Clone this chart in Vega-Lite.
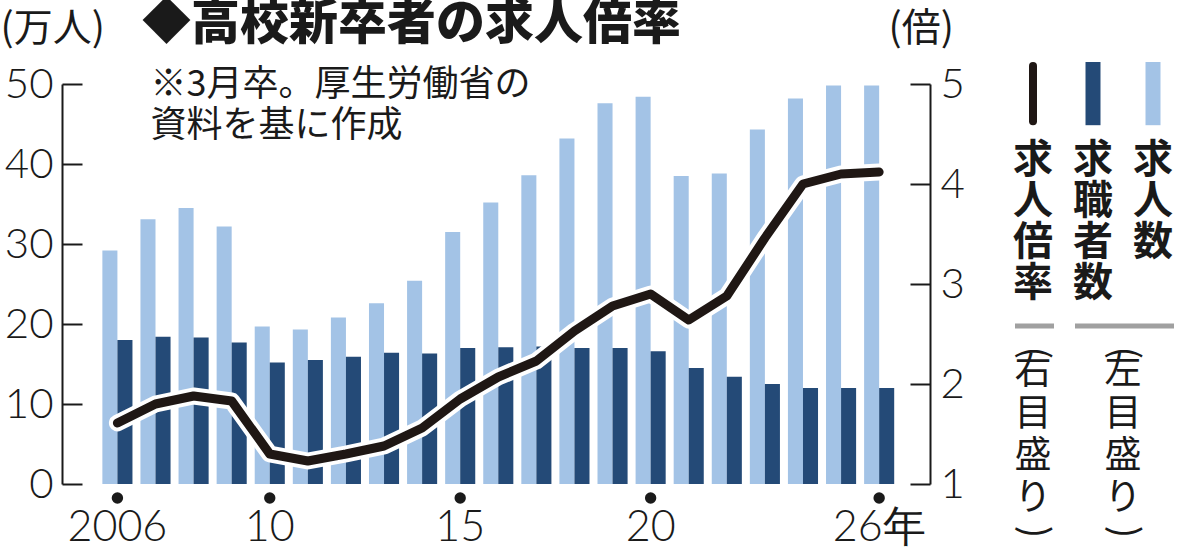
{
  "$schema": "https://vega.github.io/schema/vega-lite/v6.json",
  "background": "white",
  "padding": 0,
  "bounds": "flush",
  "spacing": 73,
  "config": {
    "view": {"stroke": null},
    "font": "Noto Sans CJK JP",
    "axis": {"grid": false}
  },
  "title": {
    "text": "◆高校新卒者の求人倍率",
    "anchor": "start",
    "frame": "group",
    "dx": 80,
    "dy": 40,
    "offset": 0,
    "font": "Noto Sans CJK JP",
    "fontSize": 49,
    "fontWeight": 900,
    "color": "#1a1a1a"
  },
  "datasets": {
    "bars": [
      {"year": "2006", "series": "求人数", "value": 29.2},
      {"year": "2007", "series": "求人数", "value": 33.1},
      {"year": "2008", "series": "求人数", "value": 34.5},
      {"year": "2009", "series": "求人数", "value": 32.2},
      {"year": "2010", "series": "求人数", "value": 19.7},
      {"year": "2011", "series": "求人数", "value": 19.3},
      {"year": "2012", "series": "求人数", "value": 20.8},
      {"year": "2013", "series": "求人数", "value": 22.6},
      {"year": "2014", "series": "求人数", "value": 25.4},
      {"year": "2015", "series": "求人数", "value": 31.5},
      {"year": "2016", "series": "求人数", "value": 35.2},
      {"year": "2017", "series": "求人数", "value": 38.6},
      {"year": "2018", "series": "求人数", "value": 43.2},
      {"year": "2019", "series": "求人数", "value": 47.6},
      {"year": "2020", "series": "求人数", "value": 48.4},
      {"year": "2021", "series": "求人数", "value": 38.5},
      {"year": "2022", "series": "求人数", "value": 38.8},
      {"year": "2023", "series": "求人数", "value": 44.3},
      {"year": "2024", "series": "求人数", "value": 48.2},
      {"year": "2025", "series": "求人数", "value": 49.8},
      {"year": "2026", "series": "求人数", "value": 49.8},
      {"year": "2006", "series": "求職者数", "value": 18.0},
      {"year": "2007", "series": "求職者数", "value": 18.4},
      {"year": "2008", "series": "求職者数", "value": 18.3},
      {"year": "2009", "series": "求職者数", "value": 17.7},
      {"year": "2010", "series": "求職者数", "value": 15.2},
      {"year": "2011", "series": "求職者数", "value": 15.5},
      {"year": "2012", "series": "求職者数", "value": 15.9},
      {"year": "2013", "series": "求職者数", "value": 16.4},
      {"year": "2014", "series": "求職者数", "value": 16.3},
      {"year": "2015", "series": "求職者数", "value": 17.0},
      {"year": "2016", "series": "求職者数", "value": 17.1},
      {"year": "2017", "series": "求職者数", "value": 17.2},
      {"year": "2018", "series": "求職者数", "value": 17.0},
      {"year": "2019", "series": "求職者数", "value": 17.0},
      {"year": "2020", "series": "求職者数", "value": 16.6},
      {"year": "2021", "series": "求職者数", "value": 14.5},
      {"year": "2022", "series": "求職者数", "value": 13.4},
      {"year": "2023", "series": "求職者数", "value": 12.5},
      {"year": "2024", "series": "求職者数", "value": 12.0},
      {"year": "2025", "series": "求職者数", "value": 12.0},
      {"year": "2026", "series": "求職者数", "value": 12.0}
    ],
    "ratio": [
      {"year": "2006", "ratio": 1.61},
      {"year": "2007", "ratio": 1.80},
      {"year": "2008", "ratio": 1.88},
      {"year": "2009", "ratio": 1.83},
      {"year": "2010", "ratio": 1.30},
      {"year": "2011", "ratio": 1.23},
      {"year": "2012", "ratio": 1.30},
      {"year": "2013", "ratio": 1.38},
      {"year": "2014", "ratio": 1.56},
      {"year": "2015", "ratio": 1.85},
      {"year": "2016", "ratio": 2.07},
      {"year": "2017", "ratio": 2.23},
      {"year": "2018", "ratio": 2.53},
      {"year": "2019", "ratio": 2.78},
      {"year": "2020", "ratio": 2.90},
      {"year": "2021", "ratio": 2.64},
      {"year": "2022", "ratio": 2.88},
      {"year": "2023", "ratio": 3.46},
      {"year": "2024", "ratio": 4.00},
      {"year": "2025", "ratio": 4.10},
      {"year": "2026", "ratio": 4.12}
    ],
    "ticks": [
      {"year": "2006"},
      {"year": "2010"},
      {"year": "2015"},
      {"year": "2020"},
      {"year": "2026"}
    ],
    "legend": [
      {"series": "求人倍率", "col": 1, "label": "求\n人\n倍\n率", "scale": "右\n目\n盛\nり"},
      {"series": "求職者数", "col": 2, "label": "求\n職\n者\n数", "scale": "左\n目\n盛\nり"},
      {"series": "求人数", "col": 3, "label": "求\n人\n数", "scale": "左\n目\n盛\nり"}
    ]
  },
  "hconcat": [
    {
      "width": 868,
      "height": 400,
      "encoding": {
        "x": {
          "field": "year",
          "type": "ordinal",
          "scale": {"paddingInner": 0.21, "paddingOuter": 1.04, "align": 0.53},
          "axis": {
            "title": null,
            "values": ["2006", "2010", "2015", "2020", "2026"],
            "labelExpr": "datum.value == '2006' ? '2006' : (datum.value == '2026' ? '26年' : substring(datum.value, 2))",
            "labelAngle": 0,
            "domain": false,
            "ticks": false,
            "labelFont": "Lato",
            "labelFontSize": 43,
            "labelFontWeight": 300,
            "labelColor": "#1a1a1a",
            "labelBaseline": "bottom",
            "labelPadding": 65
          }
        }
      },
      "layer": [
        {
          "layer": [
            {
              "data": {"name": "bars"},
              "mark": {"type": "bar"},
              "encoding": {
                "xOffset": {"field": "series", "type": "nominal", "sort": ["求人数", "求職者数"], "scale": {"paddingInner": 0}},
                "y": {
                  "field": "value",
                  "type": "quantitative",
                  "scale": {"domain": [0, 50], "nice": false},
                  "axis": {
                    "orient": "left",
                    "values": [0, 10, 20, 30, 40, 50],
                    "title": "(万人)",
                    "titleAngle": 0,
                    "titleAlign": "left",
                    "titleBaseline": "middle",
                    "titleX": -62,
                    "titleY": -56,
                    "titleFont": "Noto Sans CJK JP",
                    "titleFontSize": 39,
                    "titleFontWeight": "normal",
                    "titleColor": "#1a1a1a",
                    "tickSize": -20,
                    "tickWidth": 2,
                    "tickColor": "#1a1a1a",
                    "domainColor": "#1a1a1a",
                    "domainWidth": 2,
                    "labelFont": "Lato",
                    "labelFontSize": 42,
                    "labelFontWeight": 300,
                    "labelColor": "#1a1a1a",
                    "labelPadding": 29
                  }
                },
                "color": {
                  "field": "series",
                  "type": "nominal",
                  "scale": {"domain": ["求人数", "求職者数"], "range": ["#a3c3e6", "#244a77"]},
                  "legend": null
                }
              }
            },
            {
              "data": {"name": "ticks"},
              "mark": {"type": "point", "filled": true, "size": 130, "color": "#1a1a1a", "opacity": 1},
              "encoding": {
                "y": {"datum": -1.75}
              }
            },
            {
              "data": {"values": [{"year": "2007", "note": "※3月卒。厚生労働省の\n　資料を基に作成"}]},
              "mark": {
                "type": "text",
                "align": "left",
                "baseline": "alphabetic",
                "dx": -5,
                "fontSize": 36,
                "lineHeight": 41,
                "lineBreak": "\n",
                "color": "#1a1a1a",
                "font": "Noto Sans CJK JP"
              },
              "encoding": {
                "y": {"datum": 48.5},
                "text": {"field": "note"}
              }
            }
          ]
        },
        {
          "data": {"name": "ratio"},
          "encoding": {
            "y": {
              "field": "ratio",
              "type": "quantitative",
              "scale": {"domain": [1, 5], "nice": false},
              "axis": {
                "orient": "right",
                "values": [1, 2, 3, 4, 5],
                "title": "(倍)",
                "titleAngle": 0,
                "titleAlign": "left",
                "titleBaseline": "middle",
                "titleX": -42,
                "titleY": -56,
                "titleFont": "Noto Sans CJK JP",
                "titleFontSize": 39,
                "titleFontWeight": "normal",
                "titleColor": "#1a1a1a",
                "tickSize": -20,
                "tickWidth": 2,
                "tickColor": "#1a1a1a",
                "domainColor": "#1a1a1a",
                "domainWidth": 2,
                "labelFont": "Lato",
                "labelFontSize": 42,
                "labelFontWeight": 300,
                "labelColor": "#1a1a1a",
                "labelPadding": 30
              }
            }
          },
          "layer": [
            {
              "mark": {"type": "line", "color": "white", "strokeWidth": 17, "strokeCap": "round", "strokeJoin": "round"},
              "encoding": {}
            },
            {
              "mark": {"type": "line", "color": "#1f1714", "strokeWidth": 9, "strokeCap": "round", "strokeJoin": "round"},
              "encoding": {}
            }
          ]
        }
      ],
      "resolve": {"scale": {"y": "independent"}}
    },
    {
      "width": 180,
      "height": 400,
      "data": {"name": "legend"},
      "encoding": {
        "x": {"field": "col", "type": "quantitative", "scale": {"domain": [0.5, 3.5]}, "axis": null}
      },
      "layer": [
        {
          "transform": [{"filter": "datum.series != '求人倍率'"}],
          "mark": {"type": "rule", "strokeWidth": 15, "strokeCap": "butt"},
          "encoding": {
            "y": {"datum": -0.55, "type": "quantitative", "scale": {"domain": [0, 10], "reverse": true}, "axis": null},
            "y2": {"datum": 1.03},
            "color": {
              "field": "series",
              "type": "nominal",
              "scale": {"domain": ["求人数", "求職者数"], "range": ["#a3c3e6", "#244a77"]},
              "legend": null
            }
          }
        },
        {
          "transform": [{"filter": "datum.series == '求人倍率'"}],
          "mark": {"type": "rule", "strokeWidth": 8, "strokeCap": "round", "color": "#1f1714"},
          "encoding": {
            "y": {"datum": -0.45},
            "y2": {"datum": 0.93}
          }
        },
        {
          "mark": {
            "type": "text",
            "baseline": "top",
            "align": "center",
            "fontSize": 40,
            "fontWeight": "bold",
            "lineHeight": 41,
            "lineBreak": "\n",
            "color": "#1a1a1a"
          },
          "encoding": {
            "y": {"datum": 1.42},
            "text": {"field": "label"}
          }
        },
        {
          "transform": [
            {"aggregate": [{"op": "min", "field": "col", "as": "c0"}, {"op": "max", "field": "col", "as": "c1"}], "groupby": ["scale"]}
          ],
          "mark": {"type": "rule", "strokeWidth": 5, "color": "#a0a0a0", "xOffset": -18, "x2Offset": 21},
          "encoding": {
            "x": {"field": "c0", "type": "quantitative"},
            "x2": {"field": "c1"},
            "y": {"datum": 6.05}
          }
        },
        {
          "transform": [
            {"aggregate": [{"op": "mean", "field": "col", "as": "cm"}], "groupby": ["scale"]}
          ],
          "encoding": {
            "x": {"field": "cm", "type": "quantitative"}
          },
          "layer": [
            {
              "mark": {
                "type": "text",
                "baseline": "top",
                "align": "center",
                "fontSize": 37,
                "lineHeight": 42,
                "lineBreak": "\n",
                "color": "#1a1a1a"
              },
              "encoding": {
                "y": {"datum": 6.78},
                "text": {"field": "scale"}
              }
            },
            {
              "mark": {"type": "text", "baseline": "middle", "align": "center", "angle": 90, "fontSize": 37, "color": "#1a1a1a"},
              "encoding": {
                "y": {"datum": 6.72},
                "text": {"value": "("}
              }
            },
            {
              "mark": {"type": "text", "baseline": "middle", "align": "center", "angle": 90, "fontSize": 37, "color": "#1a1a1a"},
              "encoding": {
                "y": {"datum": 11.2},
                "text": {"value": ")"}
              }
            }
          ]
        }
      ]
    }
  ]
}
